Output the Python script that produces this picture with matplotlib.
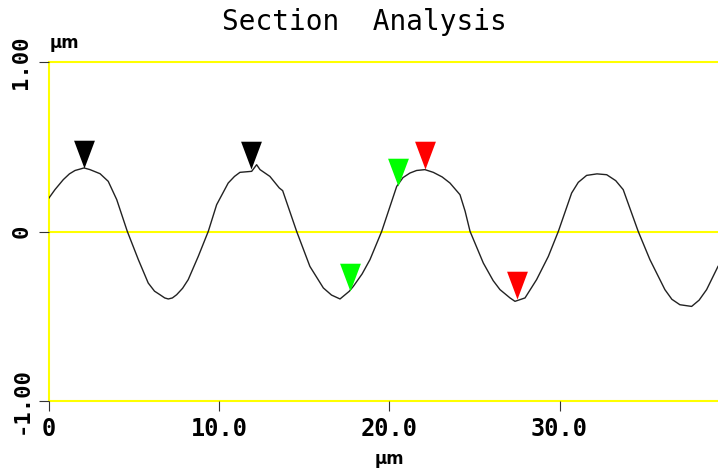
import matplotlib
matplotlib.use('Agg')
import matplotlib.pyplot as plt
from matplotlib.path import Path

# section profile (um)
x_um = [0.00, 0.35, 0.84, 1.20, 1.53, 2.06, 2.41, 3.00, 3.48, 3.98, 4.60,
        5.25, 5.83, 6.20, 6.52, 6.80, 7.01, 7.25, 7.50, 7.85, 8.18, 8.77, 9.36,
        9.85, 10.53, 10.90, 11.22, 11.91, 12.20, 12.40, 12.98, 13.53, 13.73,
        14.55, 15.33, 16.12, 16.60, 17.10, 17.64, 17.88, 18.40, 18.86, 19.55,
        20.43, 20.80, 21.21, 21.60, 22.09, 22.58, 23.10, 23.56, 24.15, 24.45,
        24.74, 25.52, 26.10, 26.50, 27.09, 27.38, 27.97, 28.65, 29.34, 29.93,
        30.71, 31.10, 31.59, 32.20, 32.77, 33.30, 33.74, 34.62, 35.31, 36.19,
        36.60, 37.07, 37.76, 38.20, 38.64, 39.31]
z_um = [0.198, 0.247, 0.306, 0.340, 0.360, 0.375, 0.365, 0.341, 0.296, 0.188, 0.001,
        -0.166, -0.304, -0.352, -0.373, -0.392, -0.398, -0.392, -0.373, -0.335, -0.284,
        -0.147, 0.001, 0.158, 0.286, 0.325, 0.349, 0.355, 0.394, 0.365, 0.325, 0.257,
        0.241, 0.001, -0.206, -0.333, -0.375, -0.398, -0.353, -0.324, -0.250, -0.166,
        0.001, 0.266, 0.318, 0.345, 0.360, 0.365, 0.349, 0.322, 0.286, 0.217, 0.120,
        0.001, -0.186, -0.290, -0.343, -0.392, -0.412, -0.392, -0.284, -0.147, 0.001,
        0.227, 0.290, 0.331, 0.340, 0.335, 0.300, 0.247, 0.001, -0.166, -0.343,
        -0.400, -0.432, -0.442, -0.405, -0.343, -0.206]

# cursor pairs
black_x = [2.07, 11.88]
black_z = [0.376, 0.366]
green_x = [17.66, 20.49]
green_z = [-0.352, 0.267]
red_x = [22.12, 27.47]
red_z = [0.366, -0.397]

xticks = [0, 10, 20, 30]
xticklabels = ['0', '10.0', '20.0', '30.0']
yticks = [-1, 0, 1]
yticklabels = ['-1.00', '0', '1.00']

W, H = 718, 468
fig = plt.figure(figsize=(W/100., H/100.), dpi=100, facecolor='white')
ax = fig.add_axes([49./W, 67./H, 669./W, 339./H])

yellow = '#ffff00'
for yy in yticks:
    ax.axhline(yy, color=yellow, lw=1.5, zorder=1, clip_on=False)
ax.axvline(0, color=yellow, lw=1.5, zorder=1, clip_on=False)

ax.plot(x_um, z_um, color='#222222', lw=1.0, zorder=3)

# down-pointing cursor, tip sits on the profile
cursor = Path([(-0.375, 1.), (0.375, 1.), (0., 0.), (-0.375, 1.)],
              [Path.MOVETO, Path.LINETO, Path.LINETO, Path.CLOSEPOLY])
msz = 40
for xs, zs, c in [(black_x, black_z, '#000000'),
                  (green_x, green_z, '#00ff00'),
                  (red_x, red_z, '#ff0000')]:
    ax.plot(xs, zs, ls='none', marker=cursor, markersize=msz,
            markerfacecolor=c, markeredgecolor='none', zorder=4, clip_on=False)

ax.set_xlim(0, 39.31)
ax.set_ylim(-1, 1)
for s in ax.spines.values():
    s.set_visible(False)

tfont = dict(family='DejaVu Sans Mono', weight='bold')
ax.set_xticks(xticks)
ax.set_xticklabels(xticklabels, fontsize=17, **tfont)
ax.set_yticks(yticks)
ax.set_yticklabels(yticklabels, fontsize=16, rotation=90, va='center', **tfont)
ax.tick_params(axis='both', direction='out', length=7.2, width=0.8,
               color='#333333')
ax.tick_params(axis='x', pad=4)
ax.tick_params(axis='y', pad=5.5)

fig.text(64.5/W, 1-43.3/H, 'µm', ha='center', va='center',
         fontsize=12, fontweight='bold')
fig.text(389./W, 1-459./H, 'µm', ha='center', va='center',
         fontsize=12, fontweight='bold')

fig.text(364./W, 1-29.5/H, 'Section  Analysis', ha='center', va='baseline',
         fontsize=20, family='DejaVu Sans Mono')

fig.savefig('out.png', dpi=100, facecolor='white')
